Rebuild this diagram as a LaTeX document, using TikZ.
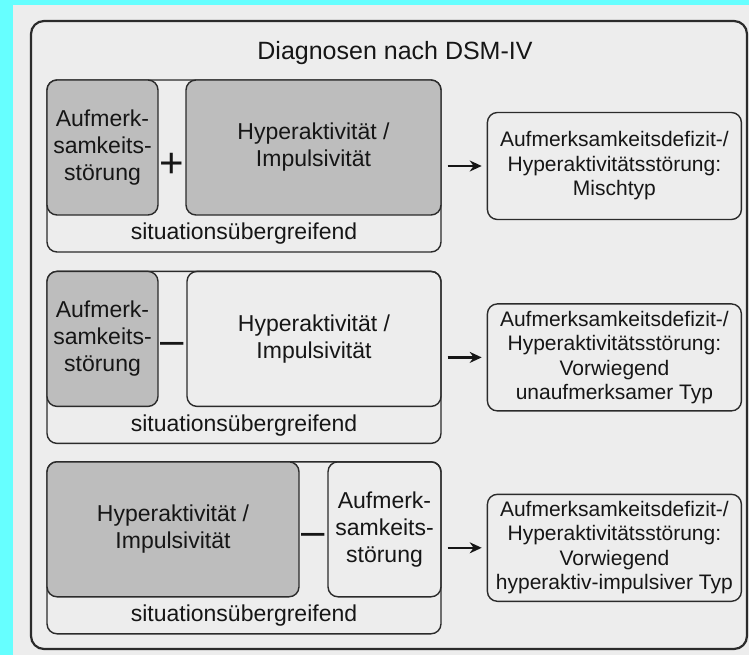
\documentclass[tikz,border=0pt]{standalone}
\usepackage{fontspec}
\setmainfont{Liberation Sans}
\usetikzlibrary{arrows.meta, positioning, calc}
\definecolor{screen}{HTML}{66FFFF}
\definecolor{paper}{HTML}{EDEDED}
\definecolor{shade}{HTML}{BDBDBD}
\definecolor{ink}{HTML}{2B2B2B}
\definecolor{type}{HTML}{161616}
\tikzset{
  frame/.style={draw=ink, line width=2.2pt, rounded corners=13pt,
                minimum width=716pt, minimum height=628pt},
  grp/.style={draw=ink, line width=1.4pt, rounded corners=10pt,
              minimum width=394pt, minimum height=172pt},
  crit/.style={draw=ink, line width=1.4pt, rounded corners=10pt, inner sep=0pt,
               minimum height=135pt, align=center, text=type,
               font=\fontsize{23pt}{27pt}\selectfont},
  critgray/.style={crit, fill=shade},
  diag/.style={draw=ink, line width=1.4pt, rounded corners=10pt, inner sep=0pt,
               minimum width=254pt, minimum height=107pt, align=center, text=type,
               font=\fontsize{21pt}{24.5pt}\selectfont},
  lbl/.style={text=type, font=\fontsize{23pt}{27pt}\selectfont},
  op/.style={text=type, inner sep=0pt, font=\fontsize{42pt}{42pt}\selectfont},
  link/.style={-{Stealth[length=12pt, width=11pt]}, line width=2.6pt, type,
               shorten <=6pt, shorten >=5pt},
}

\begin{document}
\begin{tikzpicture}[x=1pt, y=-1pt]
  % ---- paper ----
  \fill[screen] (0,0) rectangle (749,655);
  \fill[paper] (13,5) rectangle (749,655);
  \node[frame] (frm) at (389,335) {};
  \node[text=type, font=\fontsize{25pt}{30pt}\selectfont] (title) at (395,53) {Diagnosen nach DSM-IV};

  % ---- Mischtyp ----
  \node[grp] (g1) at (244,166) {};
  \node[critgray, minimum width=111pt, anchor=north west] (a1) at (g1.north west)
    {Aufmerk-\\samkeits-\\störung};
  \node[critgray, minimum width=255pt, anchor=north east] (h1) at (g1.north east)
    {Hyperaktivität /\\Impulsivität};
  \node[op] (plus1) at ($(a1.east)!0.5!(h1.west) + (0,18)$) {+};
  \node[lbl] (s1) at ([yshift=19pt]g1.south) {situationsübergreifend};
  \node[diag, right=45pt of g1] (r1)
    {Aufmerksamkeitsdefizit-/\\Hyperaktivitätsstörung:\\Mischtyp};

  % ---- unaufmerksam ----
  \node[grp, below=18pt of g1] (g2) {};
  \node[critgray, minimum width=111pt, anchor=north west] (a2) at (g2.north west)
    {Aufmerk-\\samkeits-\\störung};
  \node[crit, minimum width=254pt, anchor=north east] (h2) at (g2.north east)
    {Hyperaktivität /\\Impulsivität};
  \node[op] (minus2) at ($(a2.east)!0.5!(h2.west) + (0,10)$) {–};
  \node[lbl] (s2) at ([yshift=19pt]g2.south) {situationsübergreifend};
  \node[diag, right=45pt of g2] (r2)
    {Aufmerksamkeitsdefizit-/\\Hyperaktivitätsstörung:\\Vorwiegend\\unaufmerksamer Typ};

  % ---- hyperaktiv-impulsiv ----
  \node[grp, below=17pt of g2] (g3) {};
  \node[critgray, minimum width=252pt, anchor=north west] (h3) at (g3.north west)
    {Hyperaktivität /\\Impulsivität};
  \node[crit, minimum width=113pt, anchor=north east] (a3) at (g3.north east)
    {Aufmerk-\\samkeits-\\störung};
  \node[op] (minus3) at ($(h3.east)!0.5!(a3.west) + (0,10)$) {–};
  \node[lbl] (s3) at ([yshift=19pt]g3.south) {situationsübergreifend};
  \node[diag, right=45pt of g3] (r3)
    {Aufmerksamkeitsdefizit-/\\Hyperaktivitätsstörung:\\Vorwiegend\\hyperaktiv-impulsiver Typ};

  % ---- Edges ----
  \draw[link] (g1) -- (r1);
  \draw[link] (g2) -- (r2);
  \draw[link] (g3) -- (r3);
\end{tikzpicture}
\end{document}
